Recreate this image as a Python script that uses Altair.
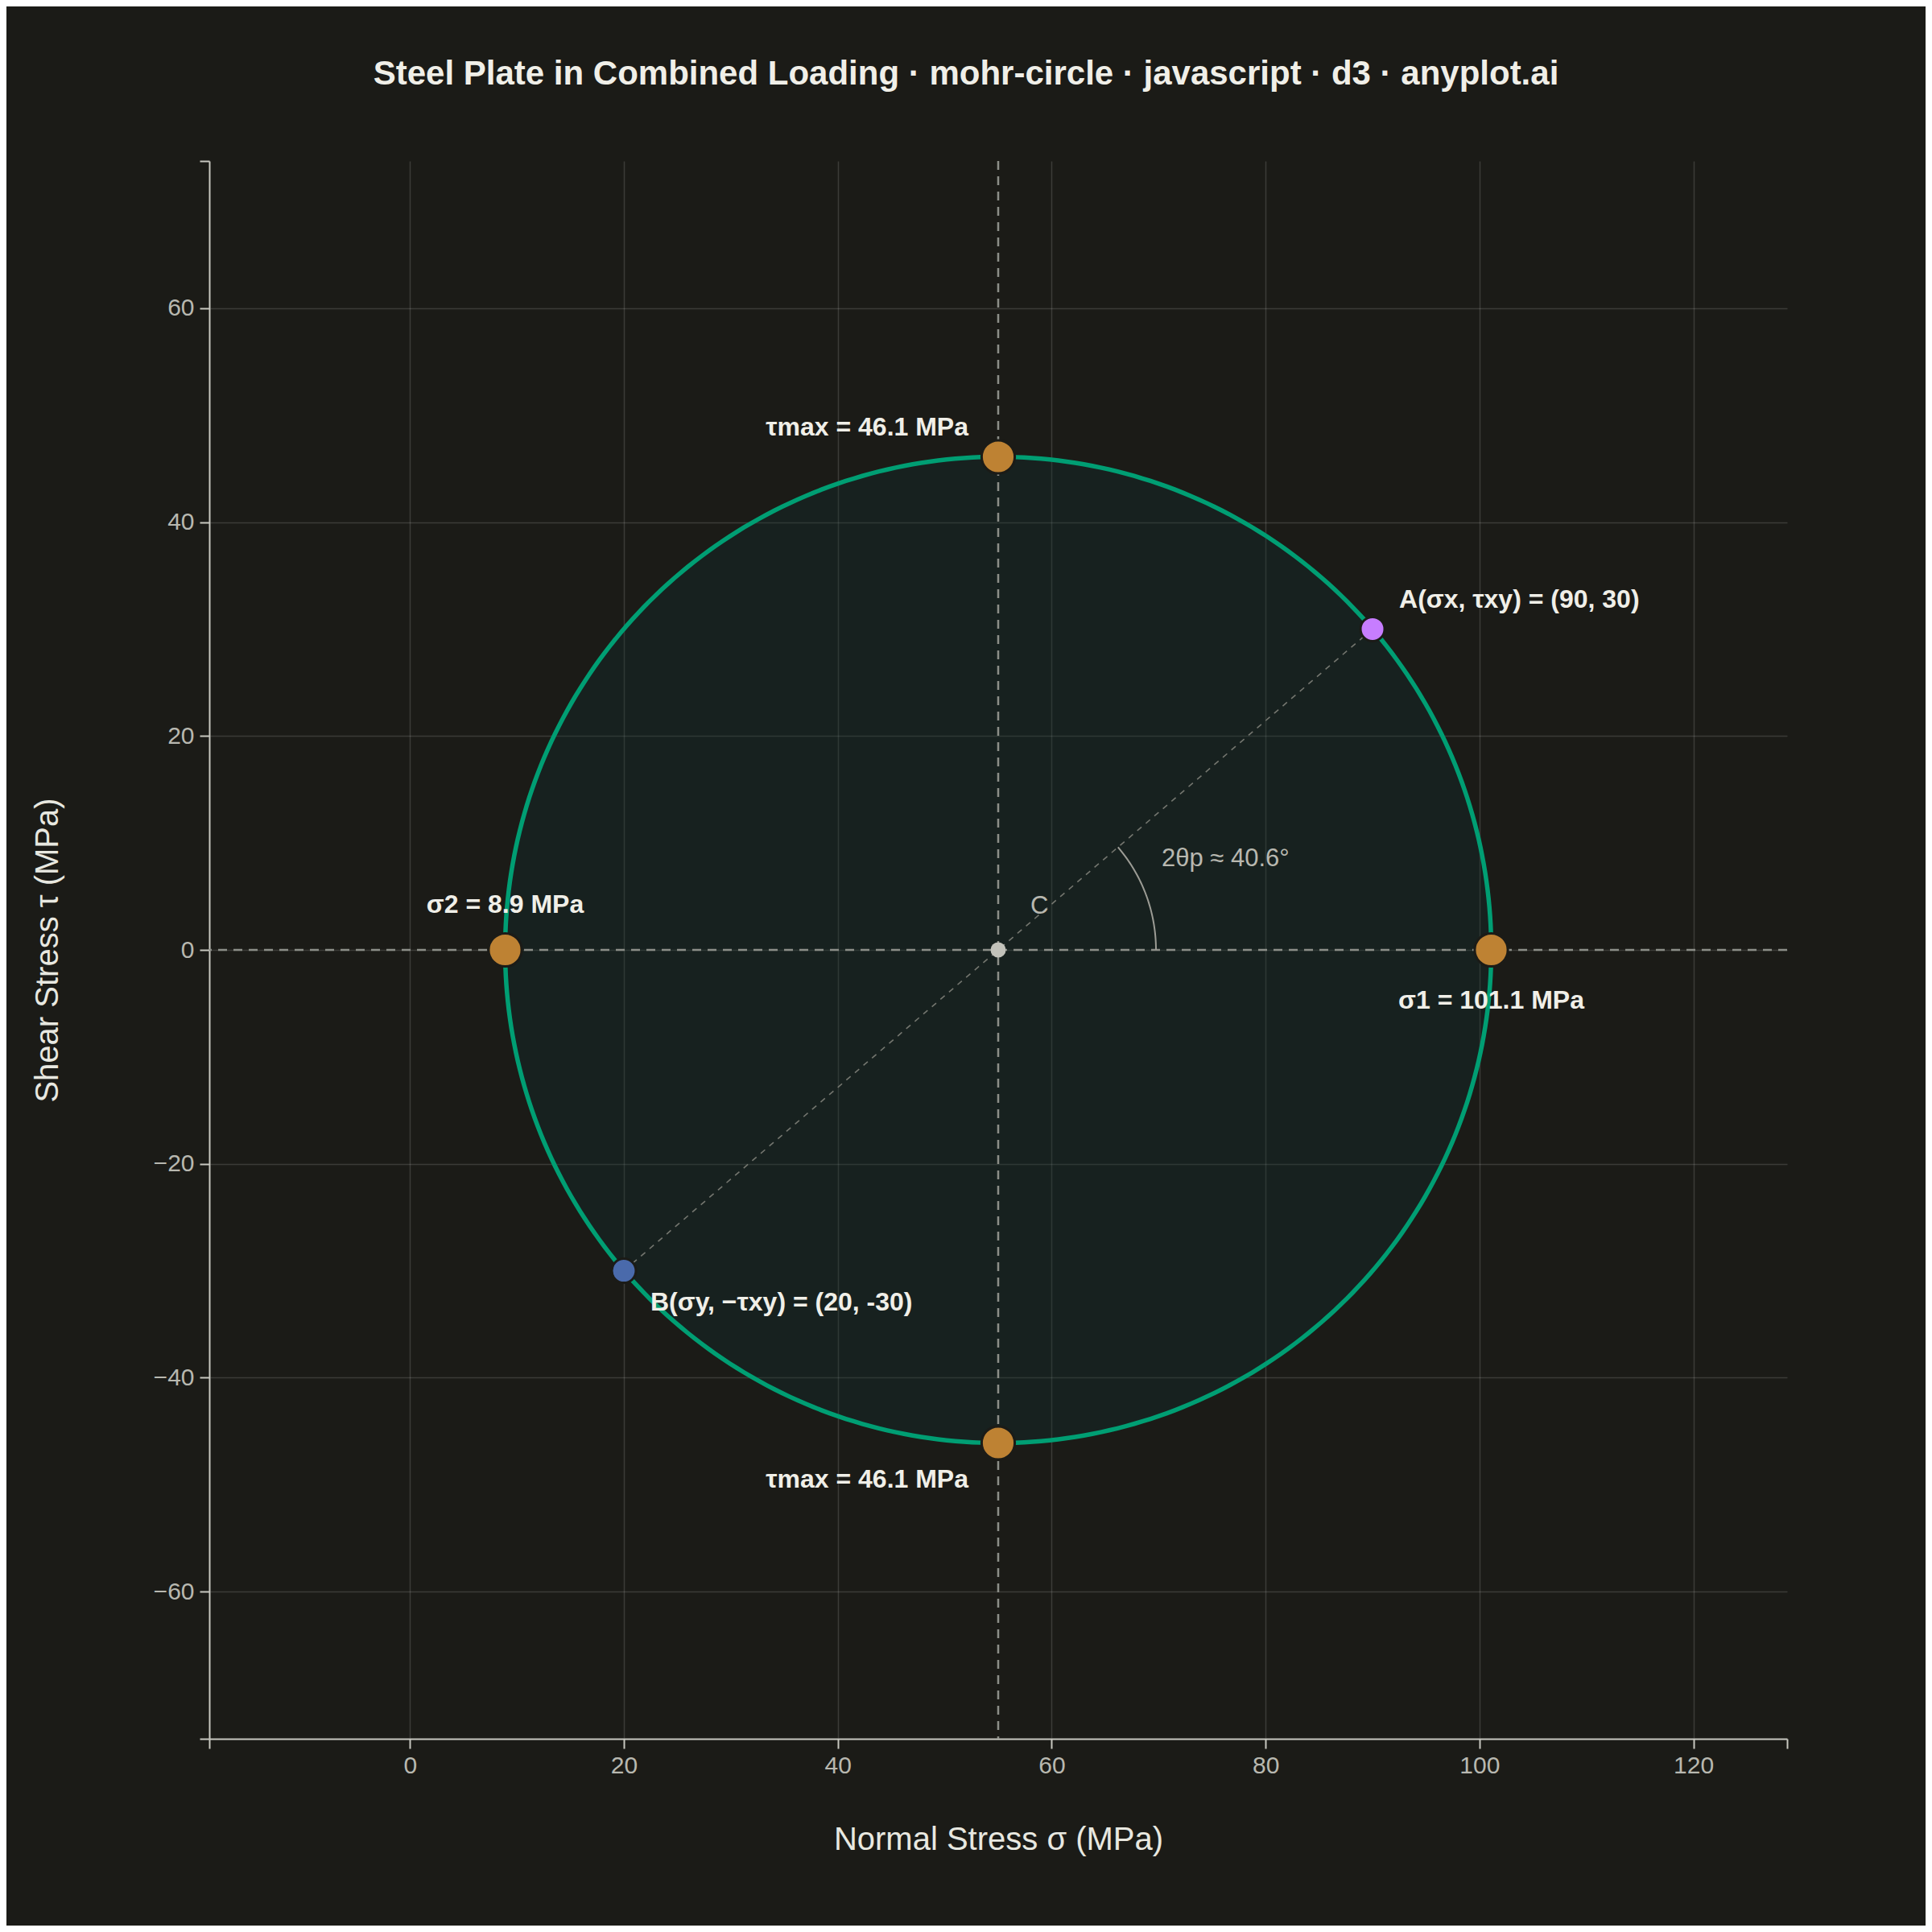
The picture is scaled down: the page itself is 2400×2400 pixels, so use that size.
import altair as alt
import numpy as np
import pandas as pd

# ---------------- values ----------------
state_names = ["A", "B"]
state_sigma = [90.0, 20.0]
state_tau = [30.0, -30.0]
state_colors = ["#C77DFF", "#4A6AAB"]

principal_names = ["sigma1", "sigma2", "taumax_top", "taumax_bottom"]
principal_sigma = [101.1, 8.9, 55.0, 55.0]
principal_tau = [0.0, 0.0, 46.1, -46.1]

center_sigma = [55.0]
center_tau = [0.0]
circle_radius = 46.1
two_theta_p_deg = 40.6

label_names = ["taumax_top", "taumax_bottom", "sigma2", "sigma1", "A", "B", "C", "angle"]
label_texts = [
    "τmax = 46.1 MPa",
    "τmax = 46.1 MPa",
    "σ2 = 8.9 MPa",
    "σ1 = 101.1 MPa",
    "A(σx, τxy) = (90, 30)",
    "B(σy, −τxy) = (20, -30)",
    "C",
    "2θp ≈ 40.6°",
]
label_sigma = [55.0, 55.0, 8.9, 101.1, 90.0, 20.0, 55.0, 55.0]
label_tau = [46.1, -46.1, 0.0, 0.0, 30.0, -30.0, 0.0, 0.0]

x_tick_values = [0, 20, 40, 60, 80, 100, 120]
y_tick_values = [-60, -40, -20, 0, 20, 40, 60]

title_text = "Steel Plate in Combined Loading · mohr-circle · javascript · d3 · anyplot.ai"
x_title = "Normal Stress σ (MPa)"
y_title = "Shear Stress τ (MPa)"

# ---------------- derived geometry ----------------
C = center_sigma[0]
R = circle_radius
half = 1.6 * R
x_dom = [C - half, C + half]
y_dom = [-half, half]

ang = np.deg2rad(np.arange(0, 361, 1))
circle_df = pd.DataFrame({"k": np.arange(len(ang)), "sigma": C + R * np.cos(ang), "tau": R * np.sin(ang)})
ang_h = np.deg2rad(np.arange(0, 181, 1))
fill_df = pd.DataFrame({"sigma": C + R * np.cos(ang_h), "tau": R * np.sin(ang_h), "tau2": -R * np.sin(ang_h)})
arc_ang = np.deg2rad(np.linspace(0, two_theta_p_deg, 41))
arc_df = pd.DataFrame({"k": np.arange(len(arc_ang)), "sigma": C + 0.32 * R * np.cos(arc_ang), "tau": 0.32 * R * np.sin(arc_ang)})
state_df = pd.DataFrame({"name": state_names, "sigma": state_sigma, "tau": state_tau})
principal_df = pd.DataFrame({"name": principal_names, "sigma": principal_sigma, "tau": principal_tau})
center_df = pd.DataFrame({"sigma": center_sigma, "tau": center_tau})
label_df = pd.DataFrame({"name": label_names, "text": label_texts, "sigma": label_sigma, "tau": label_tau})

# ---------------- styling ----------------
BG = "#1B1B17"
FONT = "Liberation Sans"
AXIS_C = "#C8C8C0"
TXT = "#F0EFE8"

xs = alt.Scale(domain=x_dom, nice=False, zero=False)
ys = alt.Scale(domain=y_dom, nice=False, zero=False)

x_axis = alt.Axis(
    values=[x_dom[0]] + x_tick_values + [x_dom[1]],
    labelExpr="datum.value < -10 || datum.value > 125 ? '' : datum.label",
    labelFlush=False, labelOverlap=False,
    labelFont=FONT, labelFontSize=30, labelColor="#B8B8B0", labelPadding=6,
    tickSize=12, tickColor=AXIS_C, tickWidth=2,
    domainColor=AXIS_C, domainWidth=2,
    grid=True, gridColor="#FFFFFF", gridWidth=1.5,
    gridOpacity={"condition": {"test": "datum.value < -10 || datum.value > 125", "value": 0}, "value": 0.14},
    title=x_title, titleFont=FONT, titleFontSize=40, titleFontWeight="normal", titleColor="#E8E8E0",
    titleX=980, titleY=137, titleBaseline="alphabetic", titleAlign="center",
)
y_axis = alt.Axis(
    values=[y_dom[0]] + y_tick_values + [y_dom[1]],
    labelExpr="abs(datum.value) > 70 ? '' : datum.label",
    labelFlush=False, labelOverlap=False,
    labelFont=FONT, labelFontSize=30, labelColor="#B8B8B0", labelPadding=7,
    tickSize=12, tickColor=AXIS_C, tickWidth=2,
    domainColor=AXIS_C, domainWidth=2,
    grid=True, gridColor="#FFFFFF", gridWidth=1.5,
    gridOpacity={"condition": {"test": "abs(datum.value) > 70", "value": 0}, "value": 0.14},
    title=y_title, titleFont=FONT, titleFontSize=40, titleFontWeight="normal", titleColor="#E8E8E0",
    titleX=-189, titleY=980, titleBaseline="alphabetic", titleAlign="center", titleAngle=270,
)


def X(field="sigma"):
    return alt.X(f"{field}:Q", scale=xs, axis=x_axis)


def Y(field="tau"):
    return alt.Y(f"{field}:Q", scale=ys, axis=y_axis)


fill = alt.Chart(fill_df).mark_area(color="#113232", opacity=0.3).encode(
    x=X(), y=Y(), y2="tau2:Q"
)
hrule = alt.Chart(center_df).mark_rule(color="#8C8E88", strokeWidth=2.5, strokeDash=[11, 8]).encode(y=Y())
vrule = alt.Chart(center_df).mark_rule(color="#8C8E88", strokeWidth=2.5, strokeDash=[11, 8]).encode(x=X())
diam = alt.Chart(state_df).mark_line(color="#74766F", strokeWidth=1.6, strokeDash=[7, 7]).encode(
    x=X(), y=Y(), order="sigma:Q"
)
arc = alt.Chart(arc_df).mark_line(color="#9C9C95", strokeWidth=2).encode(x=X(), y=Y(), order="k:Q")
outline = alt.Chart(circle_df).mark_line(color="#009E73", strokeWidth=5.5).encode(x=X(), y=Y(), order="k:Q")
cdot = alt.Chart(center_df).mark_circle(color="#C2C2BA", size=361, opacity=1).encode(x=X(), y=Y())
ppts = alt.Chart(principal_df).mark_circle(
    color="#BE8233", size=1700, opacity=1, stroke=BG, strokeWidth=3
).encode(x=X(), y=Y())
spts = alt.Chart(state_df).mark_circle(size=900, opacity=1, stroke=BG, strokeWidth=3).encode(
    x=X(), y=Y(),
    color=alt.Color("name:N", scale=alt.Scale(domain=state_names, range=state_colors), legend=None),
)


def label(name, align, dx, dy, bold=True, size=32, color=TXT):
    return alt.Chart(label_df).transform_filter(alt.datum.name == name).mark_text(
        align=align, baseline="alphabetic", dx=dx, dy=dy, font=FONT, fontSize=size,
        fontWeight="bold" if bold else "normal", color=color,
    ).encode(x=X(), y=Y(), text="text:N")


labels = [
    label("taumax_top", "right", -37, -27),
    label("taumax_bottom", "right", -37, 55),
    label("sigma2", "center", 0, -46),
    label("sigma1", "center", 0, 73),
    label("A", "left", 33, -26),
    label("B", "left", 33, 49),
    label("C", "left", 40, -45, bold=False, size=31, color="#B8B8B0"),
    label("angle", "left", 203, -104, bold=False, size=31, color="#B8B8B0"),
]

chart = alt.layer(
    fill, hrule, vrule, diam, arc, outline, cdot, ppts, spts, *labels
).properties(
    width=1960,
    height=1960,
    background=BG,
    padding={"left": 252, "top": 192, "right": 172, "bottom": 232},
    autosize=alt.AutoSizeParams(type="none"),
    title=alt.TitleParams(
        text=title_text, font=FONT, fontSize=42, fontWeight="bold", color=TXT,
        anchor="middle", frame="group", dx=-40, offset=38, baseline="alphabetic",
    ),
).configure_view(stroke=None)

chart.save("out.html", embed_options={"renderer": "svg", "actions": False})
